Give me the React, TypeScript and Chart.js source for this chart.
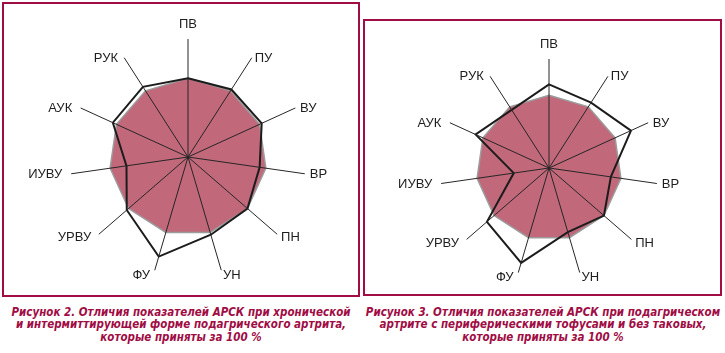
import React, { useEffect, useRef } from "react";
import { Chart, registerables } from "chart.js";

Chart.register(...registerables);

// Axes of the radar (same in both figures)
const categories = ["ПВ", "ПУ", "ВУ", "ВР", "ПН", "УН", "ФУ", "УРВУ", "ИУВУ", "АУК", "РУК"];
// Reference group taken as 100 %
const reference = [100, 100, 100, 100, 100, 100, 100, 100, 100, 100, 100];
// Figure 2: chronic vs intermittent form
const chronicForm = [100, 102, 103, 92, 100, 103, 132, 103, 79, 105, 106];
// Figure 3: with peripheral tophi vs without
const tophiForm = [115, 107, 124, 86, 100, 92, 136, 113, 49, 111, 95];
const scaleMin = 0;
const scaleMax = 150;

const caption2 = [
  "Рисунок 2. Отличия показателей АРСК при хронической",
  "и интермиттирующей форме подагрического артрита,",
  "которые приняты за 100 %",
];
const caption3 = [
  "Рисунок 3. Отличия показателей АРСК при подагрическом",
  "артрите с периферическими тофусами и без таковых,",
  "которые приняты за 100 %",
];

const FILL = "#c1687a";
const CRIMSON = "#a00c44";

// Draws the axis names next to the ends of the spokes, placed from the radial scale
const axisLabelPlugin = {
  id: "axisLabels",
  afterDraw(chart: any) {
    const scale = chart.scales.r;
    const ctx = chart.ctx;
    const labels = chart.data.labels as string[];
    ctx.save();
    ctx.font = "13px 'Liberation Sans', Arial, sans-serif";
    ctx.fillStyle = "#1e1e1e";
    ctx.textBaseline = "middle";
    labels.forEach((label, i) => {
      const p = scale.getPointPosition(i, scale.drawingArea);
      const a = scale.getIndexAngle(i);
      const s = Math.sin(a);
      const c = Math.cos(a);
      let x = p.x;
      let y = p.y;
      if (Math.abs(s) < 0.05) {
        ctx.textAlign = "center";
        y = c > 0 ? p.y - 14.5 : p.y + 14.5;
      } else {
        if (s > 0) {
          ctx.textAlign = "left";
          x = p.x + 0.5 + 4.5 * s;
        } else {
          ctx.textAlign = "right";
          x = p.x - 3 - 6 * -s;
        }
        y = p.y + (c < 0 ? -c * 5.5 : 0.3);
      }
      ctx.fillText(label, x, y);
    });
    ctx.restore();
  },
};

type RadarProps = {
  values: number[];
  left: number;
  top: number;
  width: number;
  height: number;
  padding: { left: number; top: number; right: number; bottom: number };
};

function Radar(props: RadarProps) {
  const ref = useRef<HTMLCanvasElement | null>(null);
  useEffect(() => {
    if (!ref.current) return;
    const chart = new Chart(ref.current, {
      type: "radar",
      data: {
        labels: categories,
        datasets: [
          {
            data: props.values,
            borderColor: "#1c1c1c",
            borderWidth: 2,
            backgroundColor: "rgba(0,0,0,0)",
            fill: false,
            pointRadius: 0,
            tension: 0,
          },
          {
            data: reference,
            borderColor: "#9c9c9c",
            borderWidth: 1.5,
            backgroundColor: FILL,
            fill: true,
            pointRadius: 0,
            tension: 0,
          },
        ],
      },
      options: {
        responsive: false,
        animation: false,
        devicePixelRatio: 1,
        layout: { padding: props.padding },
        plugins: { legend: { display: false }, tooltip: { enabled: false } },
        scales: {
          r: {
            min: scaleMin,
            max: scaleMax,
            ticks: { display: false },
            grid: { display: false, z: 1 },
            angleLines: { display: true, color: "#262626", lineWidth: 1 },
            pointLabels: { display: false },
          },
        },
      },
      plugins: [axisLabelPlugin],
    } as any);
    return () => chart.destroy();
  }, []);
  return (
    <canvas
      ref={ref}
      width={props.width}
      height={props.height}
      style={{ position: "absolute", left: props.left, top: props.top, width: props.width, height: props.height }}
    />
  );
}

function Caption(props: { lines: string[]; left: number; width: number; top: number }) {
  return (
    <div
      style={{
        position: "absolute",
        left: props.left,
        top: props.top,
        width: props.width,
        textAlign: "center",
        color: CRIMSON,
        fontFamily: "'DejaVu Sans Condensed', 'DejaVu Sans', sans-serif",
        fontStretch: "condensed",
        fontWeight: "bold",
        fontStyle: "italic",
        fontSize: 11.5,
        lineHeight: "12.4px",
        whiteSpace: "nowrap",
      }}
    >
      {props.lines.map((l, i) => (
        <div key={i}>{l}</div>
      ))}
    </div>
  );
}

export default function App() {
  return (
    <div style={{ position: "absolute", left: 0, top: 0, width: 725, height: 353, overflow: "hidden", background: "#fff" }}>
      <div style={{ position: "absolute", left: 2, top: 2, width: 358, height: 295, border: `2px solid ${CRIMSON}`, boxSizing: "border-box" }} />
      <div style={{ position: "absolute", left: 363, top: 19, width: 359, height: 277, border: `2px solid ${CRIMSON}`, boxSizing: "border-box" }} />
      <Radar
        values={chronicForm}
        left={4}
        top={4}
        width={354}
        height={290}
        padding={{ left: 66, top: 35, right: 52, bottom: 19 }}
      />
      <Radar
        values={tophiForm}
        left={365}
        top={21}
        width={355}
        height={273}
        padding={{ left: 75, top: 38, right: 62, bottom: 17 }}
      />
      <Caption lines={caption2} left={0} width={362} top={306} />
      <Caption lines={caption3} left={362} width={362} top={306} />
    </div>
  );
}
